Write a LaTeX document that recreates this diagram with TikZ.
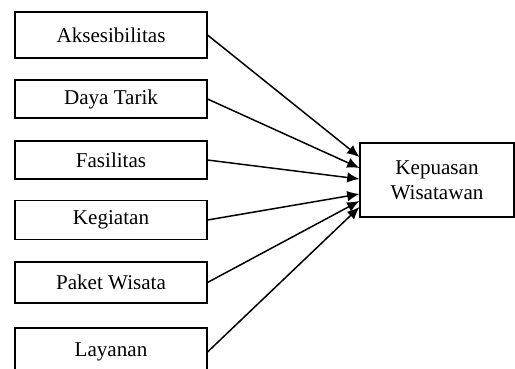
\documentclass[tikz,border=0pt]{standalone}
\usepackage{fontspec}
\setmainfont{Liberation Serif}
\usetikzlibrary{arrows.meta}

\begin{document}
\begin{tikzpicture}[x=0.02cm, y=-0.02cm,
    varbox/.style={draw, line width=0.6pt, minimum width=3.84cm, minimum height=0.8cm, font=\fontsize{12}{14}\selectfont},
    link/.style={line width=0.85pt, -{Latex[length=7pt, width=6pt]}}]
    \useasboundingbox (0,0) rectangle (515,369);

    \node[varbox, minimum height=0.92cm] (aks) at (111, 35) {Aksesibilitas};
    \node[varbox, minimum height=0.76cm] (daya) at (111, 99) {Daya Tarik};
    \node[varbox, minimum height=0.76cm] (fas) at (111, 160) {Fasilitas};
    \node[varbox, minimum height=0.78cm, text depth=0.5ex] (keg) at (111, 220) {Kegiatan};
    \node[varbox, minimum height=0.82cm] (paket) at (111, 282.5) {Paket Wisata};
    \node[varbox, minimum height=0.96cm] (lay) at (111, 352) {Layanan};

    \node[varbox, minimum width=3.08cm, minimum height=1.48cm, align=center] (kp) at (437, 180) {Kepuasan\\Wisatawan};

    \foreach \src/\dy in {aks/0.46, daya/0.24, fas/0.02, keg/-0.28, paket/-0.42, lay/-0.54}
      {
        \draw[link] (\src.east) -- ([yshift=\dy cm]kp.west);
      }
\end{tikzpicture}
\end{document}
